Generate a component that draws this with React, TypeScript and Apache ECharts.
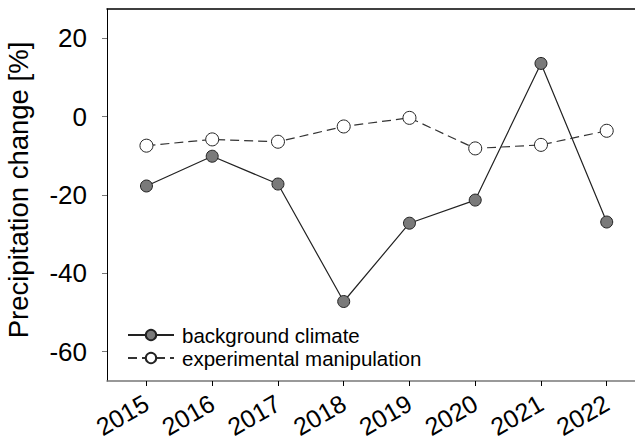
import React, { useEffect, useRef } from "react";
import * as echarts from "echarts";

const years = [2015, 2016, 2017, 2018, 2019, 2020, 2021, 2022];
const backgroundClimate = [-17.7, -10.1, -17.2, -47.2, -27.2, -21.3, 13.6, -26.9];
const experimentalManipulation = [-7.4, -5.8, -6.4, -2.5, -0.3, -8.1, -7.2, -3.6];
const yTicks = [-60, -40, -20, 0, 20];

const FONT = "Liberation Sans, Arial, sans-serif";

export default function App() {
  const ref = useRef<HTMLDivElement>(null);
  useEffect(() => {
    document.body.style.margin = "0";
    if (!ref.current) return;
    const chart = echarts.init(ref.current, undefined, { renderer: "svg", width: 635, height: 441 });
    chart.setOption({
      animation: false,
      backgroundColor: "#ffffff",
      grid: { left: 107, right: 0, top: 9, bottom: 60, outerBoundsMode: "none", containLabel: false },
      legend: {
        orient: "vertical",
        left: 122,
        top: 319,
        itemWidth: 46,
        itemHeight: 13,
        itemGap: 1,
        textStyle: { fontFamily: FONT, fontSize: 20.5, lineHeight: 22, color: "#000", padding: [0, 0, 0, 3] },
        data: ["background climate", "experimental manipulation"],
      },
      xAxis: [
        {
          type: "value",
          min: 2014.4,
          max: 2022.43,
          axisLine: { show: true, onZero: false, lineStyle: { color: "#777", width: 1.5 } },
          axisTick: { show: true, length: 5, lineStyle: { color: "#000" }, customValues: years },
          axisLabel: {
            customValues: years,
            rotate: 30,
            margin: 20,
            fontFamily: FONT,
            fontSize: 25,
            color: "#000",
            formatter: (v: number) => String(Math.round(v)),
          },
          splitLine: { show: false },
        },
        {
          type: "value",
          position: "top",
          min: 2014.4,
          max: 2022.43,
          axisLine: { show: true, onZero: false, lineStyle: { color: "#000", width: 1.5 } },
          axisTick: { show: false },
          axisLabel: { show: false },
          splitLine: { show: false },
        },
      ],
      yAxis: {
        type: "value",
        min: -67.5,
        max: 27.5,
        name: "Precipitation change [%]",
        nameLocation: "middle",
        nameGap: 75,
        nameTextStyle: { fontFamily: FONT, fontSize: 27.5, color: "#000", padding: [0, 0, 0, 10] },
        axisLine: { show: true, onZero: false, lineStyle: { color: "#000", width: 1 } },
        axisTick: { show: true, length: 5, lineStyle: { color: "#777" }, customValues: yTicks },
        axisLabel: {
          customValues: yTicks,
          margin: 20,
          fontFamily: FONT,
          fontSize: 26,
          color: "#000",
        },
        splitLine: { show: false },
      },
      series: [
        {
          name: "background climate",
          type: "line",
          data: years.map((y, i) => [y, backgroundClimate[i]]),
          symbol: "circle",
          symbolSize: 12,
          lineStyle: { color: "#222", width: 1.2 },
          itemStyle: { color: "#7a7a7a", borderColor: "#222", borderWidth: 1 },
          z: 2,
        },
        {
          name: "experimental manipulation",
          type: "line",
          data: years.map((y, i) => [y, experimentalManipulation[i]]),
          symbol: "circle",
          symbolSize: 13,
          lineStyle: { color: "#333", width: 1.2, type: [9, 5] },
          itemStyle: { color: "#ffffff", borderColor: "#222", borderWidth: 1 },
          z: 3,
        },
      ],
    });
    return () => chart.dispose();
  }, []);
  return <div ref={ref} style={{ width: 635, height: 441 }} />;
}
